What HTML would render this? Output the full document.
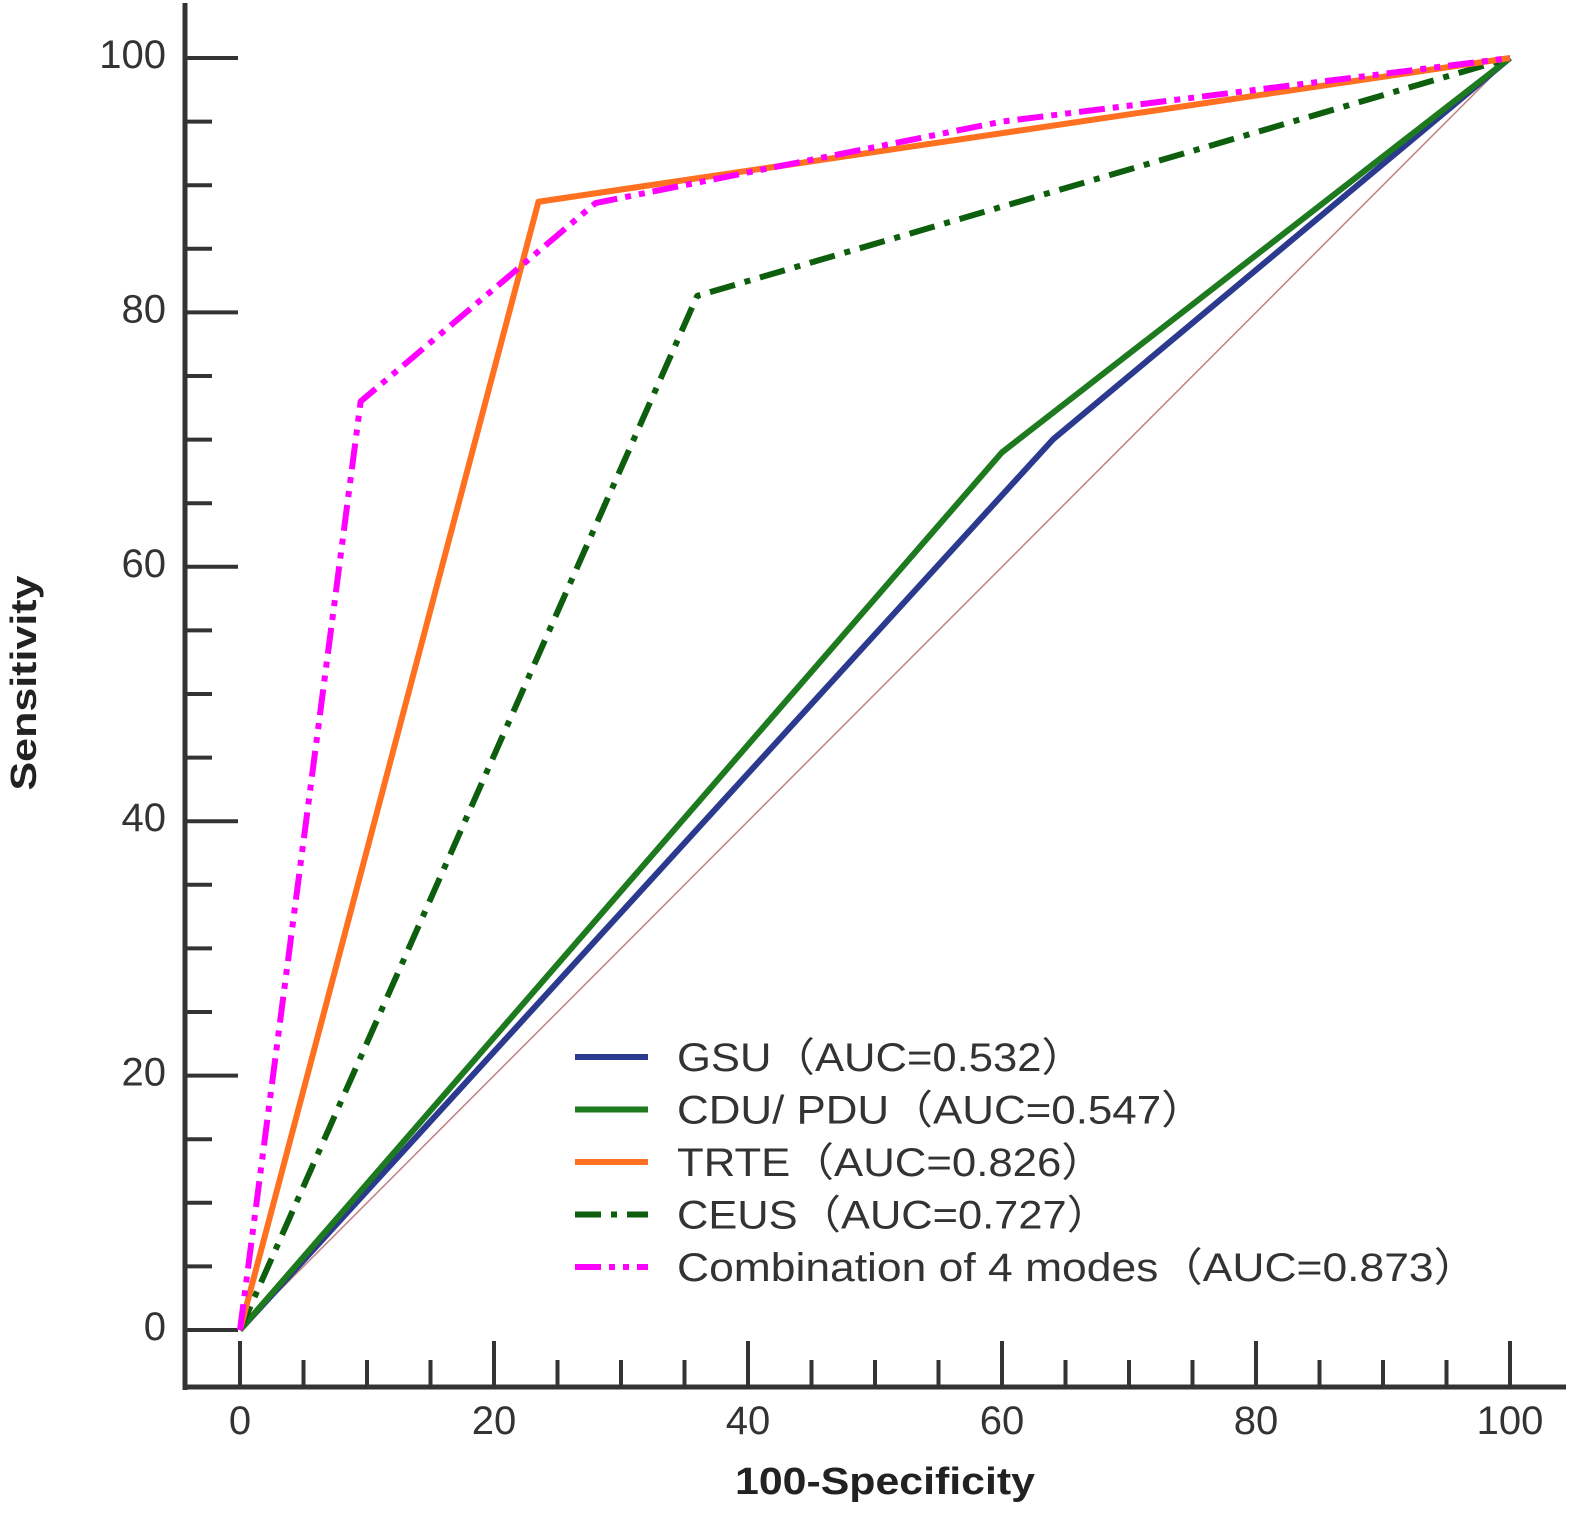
<!DOCTYPE html>
<html><head><meta charset="utf-8"><style>
html,body{margin:0;padding:0;background:#fff;}
svg text{font-family:"Liberation Sans","Noto Sans CJK SC",sans-serif;}
</style></head><body>
<svg width="1576" height="1517" viewBox="0 0 1576 1517">
<g id="axes"></g>
<g id="series"></g>
<g id="legend"></g>
<text x="36" y="683" font-size="36" font-weight="bold" fill="#222" text-anchor="middle" textLength="215" lengthAdjust="spacingAndGlyphs" transform="rotate(-90 36 683)">Sensitivity</text>
<text x="885" y="1494" font-size="38" font-weight="bold" fill="#222" text-anchor="middle" textLength="300" lengthAdjust="spacingAndGlyphs">100-Specificity</text>
</svg>
<script>
const xTicks=[0,20,40,60,80,100];
const yTicks=[0,20,40,60,80,100];
const gsuX=[0,64,100], gsuY=[0,70,100];
const cduX=[0,60,100], cduY=[0,69,100];
const trteX=[0,23.5,100], trteY=[0,88.7,100];
const ceusX=[0,36,100], ceusY=[0,81.3,100];
const comboX=[0,9.5,28,60,100], comboY=[0,73,88.6,95,100];
const refX=[0,100], refY=[0,100];
const legendLabels=["GSU（AUC=0.532）","CDU/ PDU（AUC=0.547）","TRTE（AUC=0.826）","CEUS（AUC=0.727）","Combination of 4 modes（AUC=0.873）"];
const legendWidths=[408,528,428,433,801];

const NS="http://www.w3.org/2000/svg";
const sx=v=>240+v*12.7;
const sy=v=>1330-v*12.72;
function mk(tag,attrs,parent){const e=document.createElementNS(NS,tag);for(const k in attrs)e.setAttribute(k,attrs[k]);parent.appendChild(e);return e;}
const axes=document.getElementById('axes');
let l=mk('line',{x1:185,y1:3,x2:185,y2:1390,stroke:'#333','stroke-width':5},axes);


l=mk('line',{x1:183,y1:1387,x2:1566,y2:1387,stroke:'#333','stroke-width':5},axes);


for(let v=0;v<=100;v+=5){
  const major=v%20===0;
  let t=mk('line',{x1:sx(v),y1:major?1341:1360,x2:sx(v),y2:1387,stroke:'#333','stroke-width':4},axes);
  
  
  t=mk('line',{x1:185,y1:sy(v),x2:major?238:212,y2:sy(v),stroke:'#333','stroke-width':4},axes);
  
  
}
xTicks.forEach(v=>{const t=mk('text',{x:sx(v),y:1434,'font-size':40,fill:'#333','text-anchor':'middle'},axes);t.textContent=v;

});
yTicks.forEach(v=>{const t=mk('text',{x:166,y:sy(v)+10,'font-size':40,fill:'#333','text-anchor':'end'},axes);t.textContent=v;

});

const series=document.getElementById('series');
function line(xs,ys,color,w,dash,name){
  const p=mk('polyline',{points:xs.map((x,i)=>sx(x)+','+sy(ys[i])).join(' '),fill:'none',stroke:color,'stroke-width':w,'stroke-dasharray':dash||'none','stroke-linejoin':'round'},series);
  
  
}
line(refX,refY,'#c08080',1.5,null,'reference-diagonal');
line(gsuX,gsuY,'#2b3a8f',6,null,'gsu-line');
line(cduX,cduY,'#1e7a1e',6,null,'cdu-pdu-line');
line(ceusX,ceusY,'#0d5e0d',6,'26 10 6 10','ceus-line');
line(trteX,trteY,'#ff7020',6,null,'trte-line');
line(comboX,comboY,'#ff00ff',6,'26 8 6 8 6 8','combination-line');

const legend=document.getElementById('legend');
const lc=['#2b3a8f','#1e7a1e','#ff7020','#0d5e0d','#ff00ff'];
const ld=[null,null,null,'26 10 6 10','26 8 6 8 6 8'];
legendLabels.forEach((s,i)=>{
  const y=1057+i*52.5;
  const ln=mk('line',{x1:575,y1:y,x2:648,y2:y,stroke:lc[i],'stroke-width':6,'stroke-dasharray':ld[i]||'none'},legend);
  
  
  const t=mk('text',{x:677,y:y+14,'font-size':40,fill:'#333',textLength:legendWidths[i],lengthAdjust:'spacingAndGlyphs'},legend);t.textContent=s;
  
  
});
</script>
</body></html>
